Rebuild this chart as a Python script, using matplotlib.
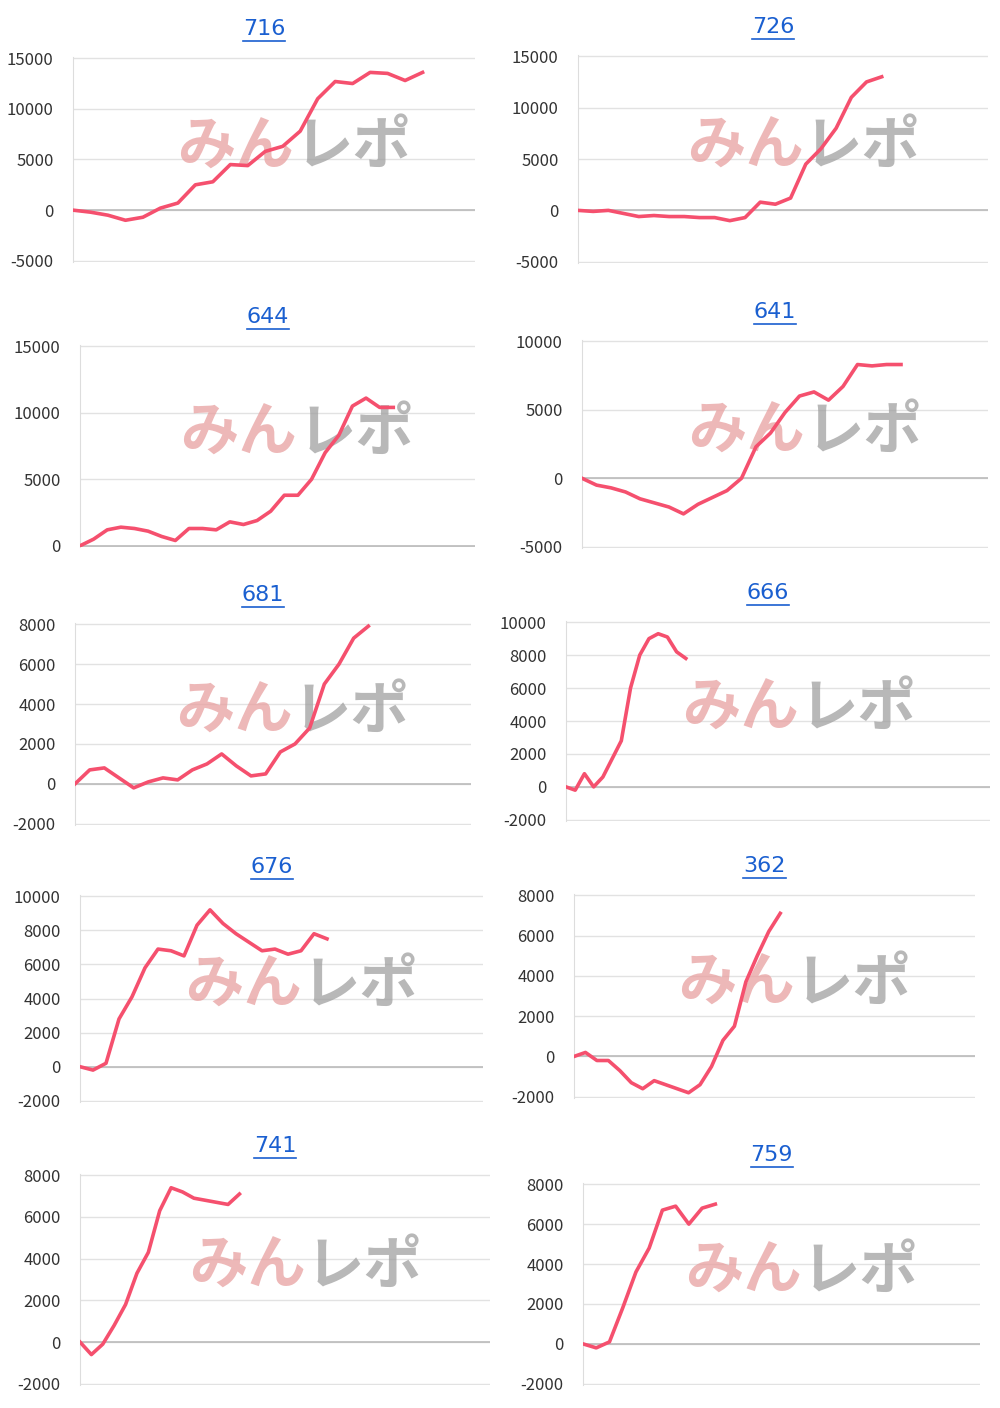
import matplotlib.pyplot as plt

plt.rcParams['font.family'] = ['Noto Sans CJK JP', 'DejaVu Sans']
plt.rcParams['axes.unicode_minus'] = False

titles = ['716', '726', '644', '641', '681', '666', '676', '362', '741', '759']

s716 = [0, -200, -500, -1000, -700, 200, 700, 2500, 2800, 4500, 4400, 5800, 6300, 7800,
        11000, 12700, 12500, 13600, 13500, 12800, 13600]
s726 = [0, -100, 0, -300, -600, -500, -600, -600, -700, -700, -1000, -700, 800, 600, 1200,
        4500, 6000, 8000, 11000, 12500, 13000]
s644 = [0, 500, 1200, 1400, 1300, 1100, 700, 400, 1300, 1300, 1200, 1800, 1600, 1900, 2600,
        3800, 3800, 5000, 7000, 8300, 10500, 11100, 10400, 10400]
s641 = [0, -500, -700, -1000, -1500, -1800, -2100, -2600, -1900, -1400, -900, 0, 2300, 3300,
        4800, 6000, 6300, 5700, 6700, 8300, 8200, 8300, 8300]
s681 = [0, 700, 800, 300, -200, 100, 300, 200, 700, 1000, 1500, 900, 400, 500, 1600, 2000,
        2800, 5000, 6000, 7300, 7900]
s666 = [0, -200, 800, 0, 600, 1700, 2800, 6000, 8000, 9000, 9300, 9100, 8200, 7800]
s676 = [0, -200, 200, 2800, 4100, 5800, 6900, 6800, 6500, 8300, 9200, 8400, 7800, 7300, 6800,
        6900, 6600, 6800, 7800, 7500]
s362 = [0, 200, -200, -200, -700, -1300, -1600, -1200, -1400, -1600, -1800, -1400, -500, 800,
        1500, 3700, 5000, 6200, 7100]
s741 = [0, -600, -100, 800, 1800, 3300, 4300, 6300, 7400, 7200, 6900, 6800, 6700, 6600, 7100]
s759 = [0, -200, 100, 1800, 3600, 4800, 6700, 6900, 6000, 6800, 7000]

series = [s716, s726, s644, s641, s681, s666, s676, s362, s741, s759]
xslots = [23, 27, 29, 28, 27, 46, 31, 35, 36, 30]
ylims = [(-5000, 15000, 5000), (-5000, 15000, 5000), (0, 15000, 5000), (-5000, 10000, 5000),
         (-2000, 8000, 2000), (-2000, 10000, 2000), (-2000, 10000, 2000), (-2000, 8000, 2000),
         (-2000, 8000, 2000), (-2000, 8000, 2000)]
# pixel boxes: left, right, top, bottom
boxes = [(73, 475, 57, 262), (578, 988, 55, 263), (80, 475, 345, 547), (582, 988, 340, 548),
         (75, 471, 623, 825), (566, 990, 621, 821), (80, 483, 895, 1102), (574, 975, 894, 1098),
         (80, 490, 1174, 1385), (583, 980, 1183, 1385)]

W, H = 1000, 1408
fig = plt.figure(figsize=(10, 14.08), dpi=100)

for i in range(10):
    l, r, t, b = boxes[i]
    ax = fig.add_axes([l / W, 1 - b / H, (r - l) / W, (b - t) / H])
    lo, hi, st = ylims[i]
    pad = (hi - lo) * 0.006
    ax.set_ylim(lo - pad, hi + pad)
    ax.set_yticks(range(lo, hi + 1, st))
    ax.set_xlim(0, xslots[i])
    ax.set_xticks([])
    for sp in ['top', 'right', 'bottom']:
        ax.spines[sp].set_visible(False)
    ax.spines['left'].set_color('#dddddd')
    ax.grid(axis='y', color='#e2e2e2', lw=1)
    ax.axhline(0, color='#bbbbbb', lw=1.2, zorder=1)
    ax.tick_params(axis='y', length=0, labelsize=12, colors='#333333', pad=14)
    ax.set_axisbelow(True)
    # watermark
    ax.text(0.55, 0.56, 'みん', transform=ax.transAxes, ha='right', va='center',
            fontsize=42, fontweight='bold', color='#e8a0a0', alpha=0.75)
    ax.text(0.55, 0.56, 'レポ', transform=ax.transAxes, ha='left', va='center',
            fontsize=42, fontweight='bold', color='#a0a0a0', alpha=0.75)
    ax.plot(range(len(series[i])), series[i], color='#f5506e', lw=2.6, zorder=3)
    # title with underline
    cx = ((l + r) / 2 - 10) / W
    ty = 1 - (t - 28) / H
    fig.text(cx, ty, titles[i], ha='center', va='center', fontsize=16,
             color='#1a5fd0', family='DejaVu Sans')
    fig.add_artist(plt.Line2D([cx - 0.021, cx + 0.021], [ty - 0.0085, ty - 0.0085],
                              color='#1a5fd0', lw=1.2))

fig.savefig('out.png')
